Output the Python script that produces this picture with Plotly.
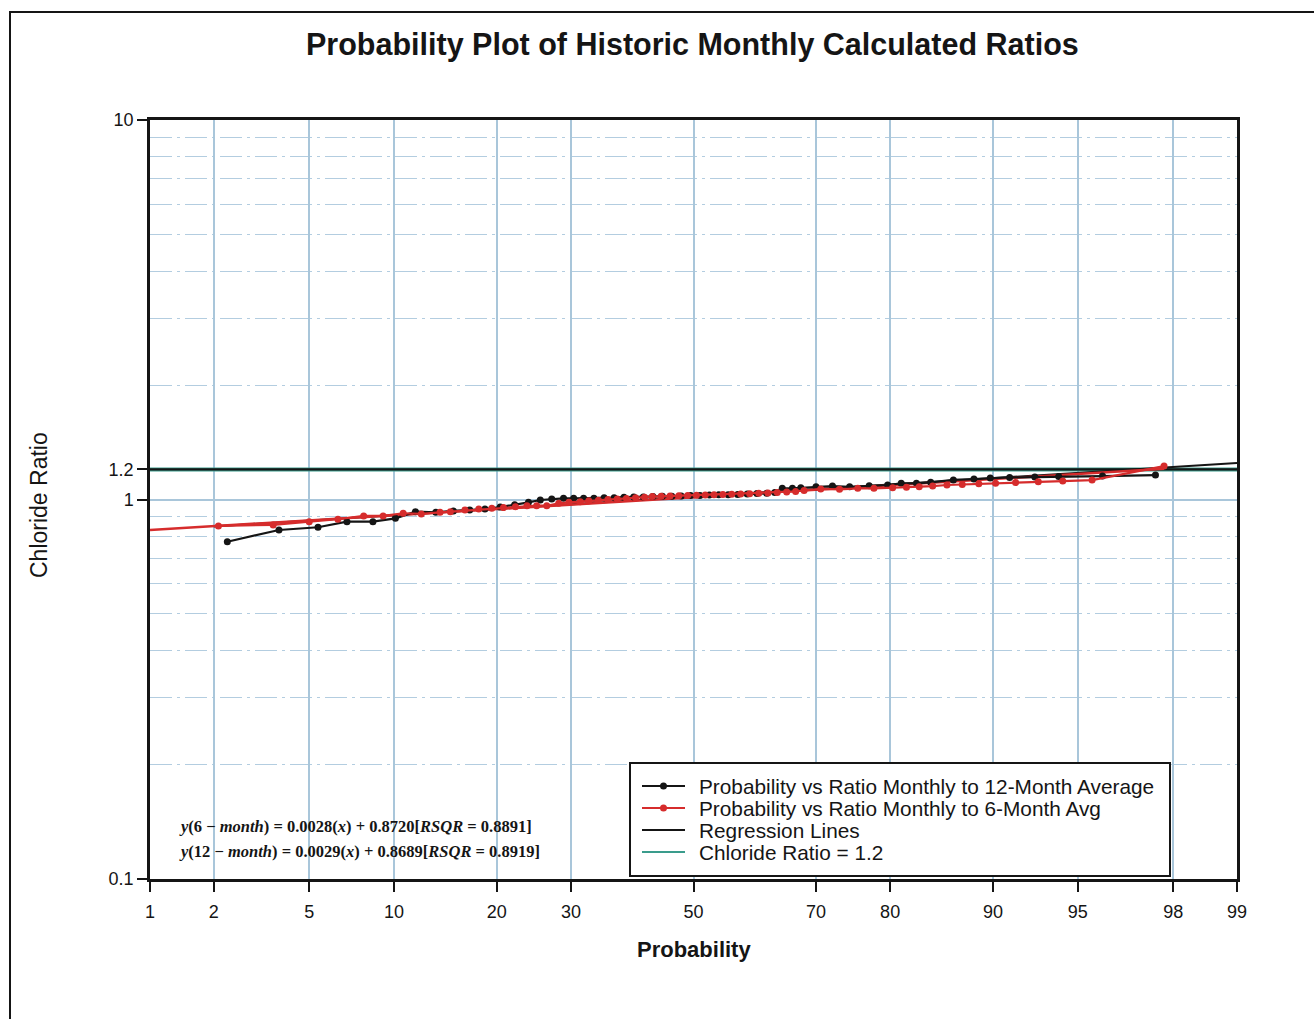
from statistics import NormalDist
import plotly.graph_objects as go

# ---- data -------------------------------------------------------------
# Ratio of monthly chloride to the 12-month running average
ratio12_prob = [2.3, 3.8, 5.4, 6.9, 8.5, 10.1, 11.7, 13.5, 15.2, 16.9, 18.6, 20.4,
                22.2, 24.0, 25.6, 27.2, 28.9, 30.4, 31.9, 33.5, 35.1, 36.7, 38.3,
                39.9, 41.5, 43.1, 44.7, 46.3, 47.9, 49.5, 51.1, 52.7, 54.3, 55.9,
                57.5, 59.1, 60.7, 62.3, 63.6, 64.8, 66.4, 67.7, 70.0, 72.4, 74.8,
                77.4, 79.7, 81.3, 83.0, 84.5, 86.7, 88.5, 89.8, 91.2, 92.8, 94.1,
                96.0, 97.6]
ratio12_val = [0.774, 0.831, 0.845, 0.874, 0.874, 0.892, 0.929, 0.925, 0.933,
               0.938, 0.944, 0.955, 0.968, 0.983, 0.997, 1.003, 1.007, 1.007,
               1.007, 1.007, 1.010, 1.011, 1.014, 1.015, 1.015, 1.018, 1.020,
               1.020, 1.022, 1.025, 1.025, 1.027, 1.029, 1.030, 1.031, 1.034,
               1.037, 1.038, 1.043, 1.070, 1.070, 1.074, 1.080, 1.085, 1.080,
               1.087, 1.092, 1.103, 1.103, 1.110, 1.126, 1.132, 1.139, 1.143,
               1.146, 1.150, 1.153, 1.160]

# Ratio of monthly chloride to the 6-month running average
ratio6_prob = [2.1, 3.6, 5.0, 6.4, 7.9, 9.2, 10.7, 12.2, 13.9, 14.9, 16.4, 17.9,
               19.4, 20.8, 22.3, 23.8, 25.1, 26.5, 28.2, 29.7, 31.4, 32.7, 34.2,
               35.7, 37.2, 38.7, 40.2, 41.7, 43.0, 44.5, 46.0, 47.5, 49.0, 50.5,
               52.0, 53.5, 55.0, 56.5, 58.0, 59.5, 61.0, 62.5, 64.0, 65.5, 66.9,
               68.2, 70.7, 73.4, 75.9, 78.0, 80.3, 81.9, 83.3, 84.7, 86.1, 87.5,
               88.9, 90.2, 91.6, 93.0, 94.3, 95.6, 97.8]
ratio6_val = [0.852, 0.857, 0.874, 0.887, 0.905, 0.905, 0.920, 0.916, 0.925,
              0.929, 0.938, 0.944, 0.948, 0.952, 0.957, 0.963, 0.963, 0.963,
              0.977, 0.983, 0.987, 0.993, 0.996, 1.000, 1.003, 1.006, 1.010,
              1.014, 1.018, 1.020, 1.021, 1.023, 1.024, 1.026, 1.027, 1.029,
              1.031, 1.032, 1.034, 1.036, 1.038, 1.041, 1.043, 1.046, 1.050,
              1.056, 1.066, 1.064, 1.070, 1.070, 1.074, 1.077, 1.081, 1.085,
              1.092, 1.096, 1.100, 1.104, 1.108, 1.114, 1.118, 1.125, 1.225]

# Fitted regression lines (end points)
reg6_prob = [1.0, 97.8]
reg6_val = [0.831, 1.205]
reg12_prob = [2.0, 99.0]
reg12_val = [0.849, 1.248]

# Chloride ratio criterion
criterion_prob = [1.0, 99.0]
criterion_val = [1.2, 1.2]

# Axis ticks
prob_ticks = [1, 2, 5, 10, 20, 30, 50, 70, 80, 90, 95, 98, 99]
ratio_ticks = [0.1, 1, 1.2, 10]
ratio_tick_text = ["0.1", "1", "1.2", "10"]
ratio_minor = [0.2, 0.3, 0.4, 0.5, 0.6, 0.7, 0.8, 0.9, 2, 3, 4, 5, 6, 7, 8, 9]

eq6 = "<i>y</i>(6 − <i>month</i>) = 0.0028(<i>x</i>) + 0.8720[<i>RSQR</i> = 0.8891]"
eq12 = "<i>y</i>(12 − <i>month</i>) = 0.0029(<i>x</i>) + 0.8689[<i>RSQR</i> = 0.8919]"

legend_labels = ["Probability vs Ratio Monthly to 12-Month Average",
                 "Probability vs Ratio Monthly to 6-Month Avg",
                 "Regression Lines",
                 "Chloride Ratio = 1.2"]

# ---- normal-probability scale ----------------------------------------
nd = NormalDist()


def probit(values):
    return [nd.inv_cdf(v / 100.0) for v in values]


# ---- figure geometry (pixels) -----------------------------------------
W, H = 1314, 1019
L, R, T, B = 150, 77, 120, 140
PW, PH = W - L - R, H - T - B


def px(x):
    return (x - L) / PW


def py(y):
    return (H - B - y) / PH


BLACK = "#151515"
RED = "#d62c2c"
TEAL = "#3a9c8c"
GRID = "#a9c6da"
FONT = "Liberation Sans, Arial, sans-serif"

fig = go.Figure()

fig.add_trace(go.Scatter(x=probit(criterion_prob), y=criterion_val, mode="lines",
                         line=dict(color=TEAL, width=4), hoverinfo="skip"))
fig.add_trace(go.Scatter(x=probit(criterion_prob), y=criterion_val, mode="lines",
                         line=dict(color=BLACK, width=2.2), hoverinfo="skip"))
fig.add_trace(go.Scatter(x=probit(reg12_prob), y=reg12_val, mode="lines",
                         line=dict(color=BLACK, width=2)))
fig.add_trace(go.Scatter(x=probit(reg6_prob), y=reg6_val, mode="lines",
                         line=dict(color=RED, width=2.5)))
fig.add_trace(go.Scatter(x=probit(ratio12_prob), y=ratio12_val, mode="lines+markers",
                         line=dict(color=BLACK, width=2.2),
                         marker=dict(color=BLACK, size=7)))
fig.add_trace(go.Scatter(x=probit(ratio6_prob), y=ratio6_val, mode="lines+markers",
                         line=dict(color=RED, width=2.2),
                         marker=dict(color=RED, size=7)))

shapes = []
annotations = []

# outer frame of the page
shapes.append(dict(type="rect", xref="paper", yref="paper",
                   x0=px(10), x1=px(1340), y0=py(1040), y1=py(12),
                   line=dict(color=BLACK, width=2), layer="below"))

# legend box
lx0, lx1, ly0, ly1 = 630, 1170, 763, 876
shapes.append(dict(type="rect", xref="paper", yref="paper",
                   x0=px(lx0), x1=px(lx1), y0=py(ly1), y1=py(ly0),
                   fillcolor="white", line=dict(color=BLACK, width=2)))
row_y = [786, 808, 830, 852]
sample_col = [BLACK, RED, BLACK, TEAL]
for i, (label, yy, col) in enumerate(zip(legend_labels, row_y, sample_col)):
    shapes.append(dict(type="line", xref="paper", yref="paper",
                       x0=px(642), x1=px(685), y0=py(yy), y1=py(yy),
                       line=dict(color=col, width=2)))
    if i < 2:
        shapes.append(dict(type="circle", xref="paper", yref="paper",
                           x0=px(660), x1=px(667), y0=py(yy + 3.5), y1=py(yy - 3.5),
                           fillcolor=col, line=dict(color=col, width=0)))
    annotations.append(dict(xref="paper", yref="paper", x=px(697), y=py(yy),
                            xanchor="left", yanchor="middle", showarrow=False,
                            text=label, font=dict(family=FONT, size=20.8, color=BLACK)))

# regression equations
for txt, yy in [(eq6, 826), (eq12, 851)]:
    annotations.append(dict(xref="paper", yref="paper", x=px(177), y=py(yy),
                            xanchor="left", yanchor="middle", showarrow=False,
                            text=txt,
                            font=dict(family="Liberation Serif, Times New Roman, serif",
                                      size=16.5, color=BLACK, weight="bold")))

# title and axis titles
annotations.append(dict(xref="paper", yref="paper", x=px(692), y=py(44),
                        xanchor="center", yanchor="middle", showarrow=False,
                        text="Probability Plot of Historic Monthly Calculated Ratios",
                        font=dict(family=FONT, size=30.5, color=BLACK, weight="bold")))
annotations.append(dict(xref="paper", yref="paper", x=px(694), y=py(949),
                        xanchor="center", yanchor="middle", showarrow=False,
                        text="Probability",
                        font=dict(family=FONT, size=22, color=BLACK, weight="bold")))
annotations.append(dict(xref="paper", yref="paper", x=px(39), y=py(505),
                        xanchor="center", yanchor="middle", showarrow=False,
                        textangle=-90, text="Chloride Ratio",
                        font=dict(family=FONT, size=23, color=BLACK)))

fig.update_layout(
    width=W, height=H,
    margin=dict(l=L, r=R, t=T, b=B, autoexpand=False),
    paper_bgcolor="white", plot_bgcolor="white",
    showlegend=False,
    shapes=shapes, annotations=annotations,
    font=dict(family=FONT, color=BLACK),
)

fig.update_xaxes(
    range=probit([1, 99]), tickmode="array",
    tickvals=probit(prob_ticks), ticktext=[str(p) for p in prob_ticks],
    showgrid=True, gridcolor=GRID, gridwidth=2, zeroline=False,
    showline=True, linecolor=BLACK, linewidth=2.5, mirror=True,
    ticks="outside", ticklen=10, tickwidth=2, tickcolor=BLACK,
    ticklabelstandoff=5,
    tickfont=dict(size=18, family=FONT, color=BLACK), automargin=False,
)
fig.update_yaxes(
    type="log", range=[-1, 1], tickmode="array",
    tickvals=ratio_ticks, ticktext=ratio_tick_text,
    showgrid=True, gridcolor=GRID, gridwidth=2, zeroline=False,
    showline=True, linecolor=BLACK, linewidth=2.5, mirror=True,
    ticks="outside", ticklen=10, tickwidth=2, tickcolor=BLACK,
    tickfont=dict(size=18, family=FONT, color=BLACK), automargin=False,
    minor=dict(tickmode="array", tickvals=ratio_minor, showgrid=True,
               gridcolor="#b3cde0", gridwidth=1.3, griddash="22px,5px,3px,5px",
               ticks=""),
)

fig.write_html("out.html")
